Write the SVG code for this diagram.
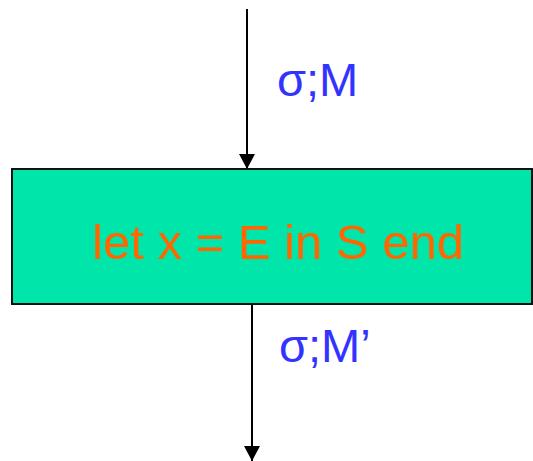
<svg xmlns="http://www.w3.org/2000/svg" width="533" height="461" viewBox="0 0 533 461">
<style>
.conn{stroke:#000;stroke-width:2;fill:none}
.lbl{font-family:"Liberation Sans",Arial,sans-serif;font-size:47px;fill:#3333FF}
.node{fill:#00E5AA;stroke:#111;stroke-width:2}
.ntext{font-family:"Liberation Sans",Arial,sans-serif;font-size:49px;fill:#FF6600}
</style>
<defs>
<marker id="ah" markerUnits="userSpaceOnUse" markerWidth="16" markerHeight="16" refX="15" refY="8" orient="auto">
<path d="M0,0 L15,8 L0,16 Z" fill="#000"/>
</marker>
</defs>
<g id="connectors">
<line class="conn" x1="247" y1="9" x2="247" y2="169" marker-end="url(#ah)"/>
<line class="conn" x1="252" y1="304" x2="252" y2="461" marker-end="url(#ah)"/>
<text class="lbl" x="277" y="96">σ;M</text>
<text class="lbl" x="279" y="362">σ;M’</text>
</g>
<g id="node-let">
<rect class="node" x="12" y="169" width="520" height="135"/>
<text class="ntext" x="278" y="259" text-anchor="middle">let x = E in S end</text>
</g>
</svg>
